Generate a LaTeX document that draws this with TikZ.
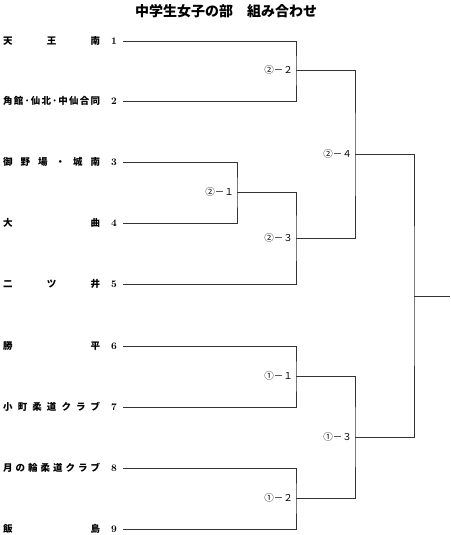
\documentclass[tikz,border=0pt]{standalone}
\usepackage{fontspec}
\newfontfamily\jp{Noto Sans CJK JP}
\newcommand\spreadname[1]{\makebox[97pt][s]{#1}}
\begin{document}
\begin{tikzpicture}[x=1pt,y=-1pt,
  br/.style={draw=black!80,line width=0.9pt},
  team/.style={anchor=west,inner sep=0pt,font=\jp\bfseries\fontsize{9.5}{10}\selectfont},
  num/.style={anchor=east,inner sep=0pt,font=\bfseries\fontsize{10}{10}\selectfont},
  game/.style={anchor=east,inner sep=0pt,font=\jp\fontsize{9.5}{10}\selectfont},
  ttl/.style={inner sep=0pt,font=\jp\bfseries\fontsize{14}{14}\selectfont}]
\useasboundingbox (0,0) rectangle (450,535);
\node[ttl] (title) at (226,11) {中学生女子の部　組み合わせ};
% teams
\node[team] (n1) at (3,41) {\spreadname{天\hfill 王\hfill 南}};
\node[team] (n2) at (3,101) {\spreadname{角\hfil 館\hfil ･\hfil 仙\hfil 北\hfil ･\hfil 中\hfil 仙\hfil 合\hfil 同}};
\node[team] (n3) at (3,162) {\spreadname{御\hfill 野\hfill 場\hfill ・\hfill 城\hfill 南}};
\node[team] (n4) at (3,223) {\spreadname{大\hfill 曲}};
\node[team] (n5) at (3,284) {\spreadname{二\hfill ツ\hfill 井}};
\node[team] (n6) at (3,346) {\spreadname{勝\hfill 平}};
\node[team] (n7) at (3,407) {\spreadname{小\hfill 町\hfill 柔\hfill 道\hfill ク\hfill ラ\hfill ブ}};
\node[team] (n8) at (3,468) {\spreadname{月\hfill の\hfill 輪\hfill 柔\hfill 道\hfill ク\hfill ラ\hfill ブ}};
\node[team] (n9) at (3,529) {\spreadname{飯\hfill 島}};
\foreach \i/\y in {1/41,2/101,3/162,4/223,5/284,6/346,7/407,8/468,9/529}{
  \node[num] (k\i) at (117,\y) {\i};
  \coordinate (s\i) at (123,\y);
}
\coordinate (a2) at (296,70);
\coordinate (a1) at (237,192);
\coordinate (a3) at (296,238);
\coordinate (a4) at (355,154);
\coordinate (b1) at (296,376);
\coordinate (b2) at (296,498);
\coordinate (b3) at (355,437);
\coordinate (f) at (414,296);
\coordinate (fe) at (450,296);
\draw[br] (s1) -| (a2) |- (s2);
\draw[br] (s3) -| (a1) |- (s4);
\draw[br] (a1) -| (a3) |- (s5);
\draw[br] (a2) -| (a4) |- (a3);
\draw[br] (s6) -| (b1) |- (s7);
\draw[br] (s8) -| (b2) |- (s9);
\draw[br] (b1) -| (b3) |- (b2);
\draw[br] (a4) -| (f) |- (b3);
\draw[br] (f) -- (fe);
\node[game] (g22) at ([xshift=-3pt]a2) {②－２};
\node[game] (g21) at ([xshift=-3pt]a1) {②－１};
\node[game] (g23) at ([xshift=-3pt]a3) {②－３};
\node[game] (g24) at ([xshift=-3pt]a4) {②－４};
\node[game] (g11) at ([xshift=-3pt]b1) {①－１};
\node[game] (g12) at ([xshift=-3pt]b2) {①－２};
\node[game] (g13) at ([xshift=-3pt]b3) {①－３};
\end{tikzpicture}
\end{document}
